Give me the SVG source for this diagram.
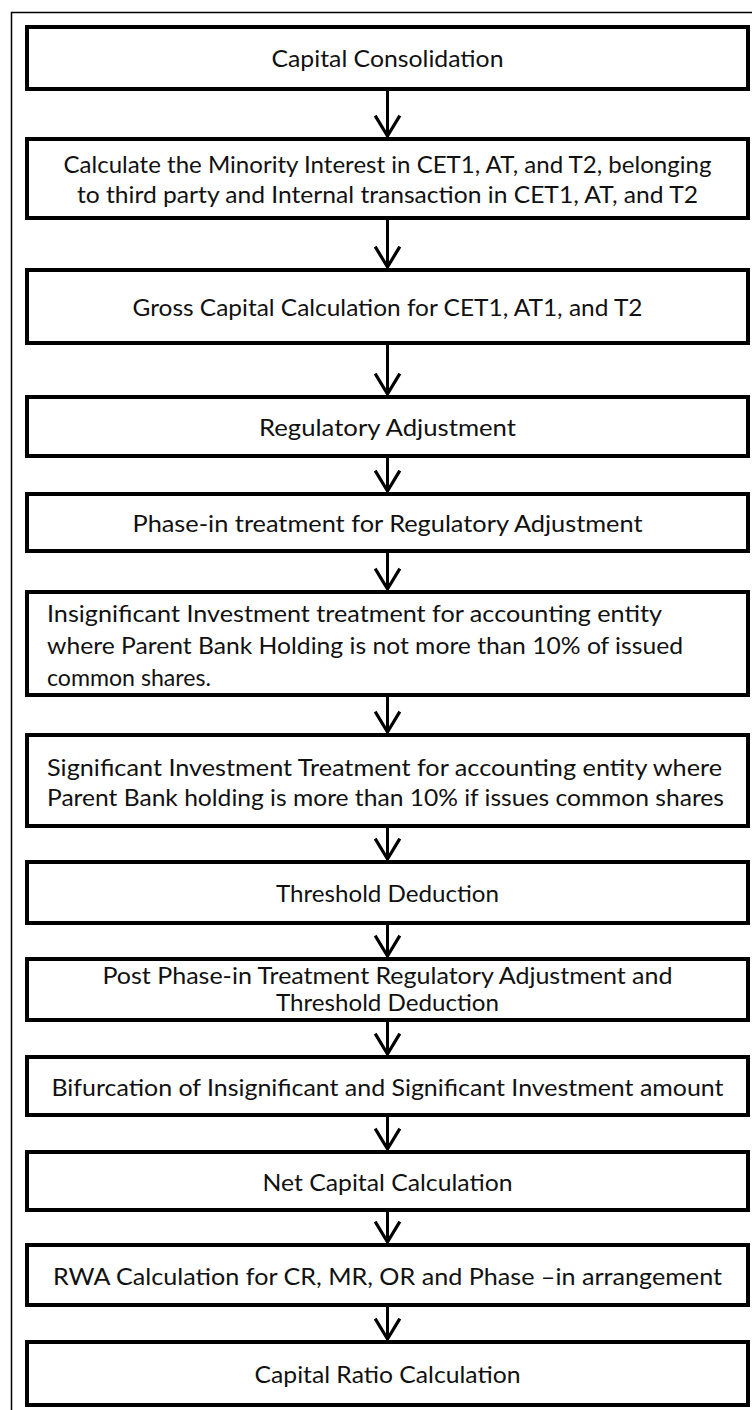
<svg xmlns="http://www.w3.org/2000/svg" width="752" height="1410" viewBox="0 0 752 1410">
<defs>
<style>
.box{fill:#fff;stroke:#000;stroke-width:4}
.t{font-family:Lato,"Liberation Sans",sans-serif;font-size:23px;fill:#111}
.c{text-anchor:middle}
.conn line{stroke:#000;stroke-width:3;marker-end:url(#ah)}
</style>
<marker id="ah" markerUnits="userSpaceOnUse" markerWidth="30" markerHeight="30" viewBox="-2 -2 26 28" refX="20" refY="11.5" orient="auto">
<path d="M1,0 L20,11.5 L1,23" fill="none" stroke="#000" stroke-width="3"/>
</marker>
</defs>
<rect width="752" height="1410" fill="#fff"/>
<path d="M11.5,1410 V12.5 H752" fill="none" stroke="#000" stroke-width="1.5"/>
<g class="conn">
<line x1="387.5" y1="91" x2="387.5" y2="136"/>
<line x1="387.5" y1="220" x2="387.5" y2="267"/>
<line x1="387.5" y1="345" x2="387.5" y2="394"/>
<line x1="387.5" y1="458" x2="387.5" y2="491"/>
<line x1="387.5" y1="553" x2="387.5" y2="589"/>
<line x1="387.5" y1="697" x2="387.5" y2="732"/>
<line x1="387.5" y1="828" x2="387.5" y2="859"/>
<line x1="387.5" y1="925" x2="387.5" y2="956"/>
<line x1="387.5" y1="1022" x2="387.5" y2="1054"/>
<line x1="387.5" y1="1117" x2="387.5" y2="1149"/>
<line x1="387.5" y1="1212" x2="387.5" y2="1242"/>
<line x1="387.5" y1="1307" x2="387.5" y2="1339"/>
</g>
<g id="n1"><rect class="box" x="27" y="27" width="721" height="62"/>
<text class="t c" x="387.5" y="67" textLength="232" lengthAdjust="spacingAndGlyphs">Capital Consolidation</text></g>
<g id="n2"><rect class="box" x="27" y="139" width="721" height="79"/>
<text class="t c" x="387.5" y="173" textLength="648" lengthAdjust="spacingAndGlyphs">Calculate the Minority Interest in CET1, AT, and T2, belonging</text>
<text class="t c" x="387.5" y="203" textLength="621" lengthAdjust="spacingAndGlyphs">to third party and Internal transaction in CET1, AT, and T2</text></g>
<g id="n3"><rect class="box" x="27" y="270" width="721" height="73"/>
<text class="t c" x="387.5" y="316" textLength="510" lengthAdjust="spacingAndGlyphs">Gross Capital Calculation for CET1, AT1, and T2</text></g>
<g id="n4"><rect class="box" x="27" y="397" width="721" height="59"/>
<text class="t c" x="387.5" y="436" textLength="257" lengthAdjust="spacingAndGlyphs">Regulatory Adjustment</text></g>
<g id="n5"><rect class="box" x="27" y="494" width="721" height="57"/>
<text class="t c" x="387.5" y="532" textLength="510" lengthAdjust="spacingAndGlyphs">Phase-in treatment for Regulatory Adjustment</text></g>
<g id="n6"><rect class="box" x="27" y="592" width="721" height="103"/>
<text class="t" x="47" y="622" textLength="615" lengthAdjust="spacingAndGlyphs">Insignificant Investment treatment for accounting entity</text>
<text class="t" x="47" y="654" textLength="636" lengthAdjust="spacingAndGlyphs">where Parent Bank Holding is not more than 10% of issued</text>
<text class="t" x="47" y="686" textLength="164" lengthAdjust="spacingAndGlyphs">common shares.</text></g>
<g id="n7"><rect class="box" x="27" y="735" width="721" height="91"/>
<text class="t" x="47" y="776" textLength="675" lengthAdjust="spacingAndGlyphs">Significant Investment Treatment for accounting entity where</text>
<text class="t" x="47" y="806" textLength="677" lengthAdjust="spacingAndGlyphs">Parent Bank holding is more than 10% if issues common shares</text></g>
<g id="n8"><rect class="box" x="27" y="862" width="721" height="61"/>
<text class="t c" x="387.5" y="902" textLength="223" lengthAdjust="spacingAndGlyphs">Threshold Deduction</text></g>
<g id="n9"><rect class="box" x="27" y="959" width="721" height="61"/>
<text class="t c" x="387.5" y="984" textLength="570" lengthAdjust="spacingAndGlyphs">Post Phase-in Treatment Regulatory Adjustment and</text>
<text class="t c" x="387.5" y="1011" textLength="223" lengthAdjust="spacingAndGlyphs">Threshold Deduction</text></g>
<g id="n10"><rect class="box" x="27" y="1057" width="721" height="58"/>
<text class="t c" x="387.5" y="1096" textLength="672" lengthAdjust="spacingAndGlyphs">Bifurcation of Insignificant and Significant Investment amount</text></g>
<g id="n11"><rect class="box" x="27" y="1152" width="721" height="58"/>
<text class="t c" x="387.5" y="1191" textLength="250" lengthAdjust="spacingAndGlyphs">Net Capital Calculation</text></g>
<g id="n12"><rect class="box" x="27" y="1245" width="721" height="60"/>
<text class="t c" x="387.5" y="1285" textLength="669" lengthAdjust="spacingAndGlyphs">RWA Calculation for CR, MR, OR and Phase –in arrangement</text></g>
<g id="n13"><rect class="box" x="27" y="1342" width="721" height="63"/>
<text class="t c" x="387.5" y="1383" textLength="266" lengthAdjust="spacingAndGlyphs">Capital Ratio Calculation</text></g>
</svg>
